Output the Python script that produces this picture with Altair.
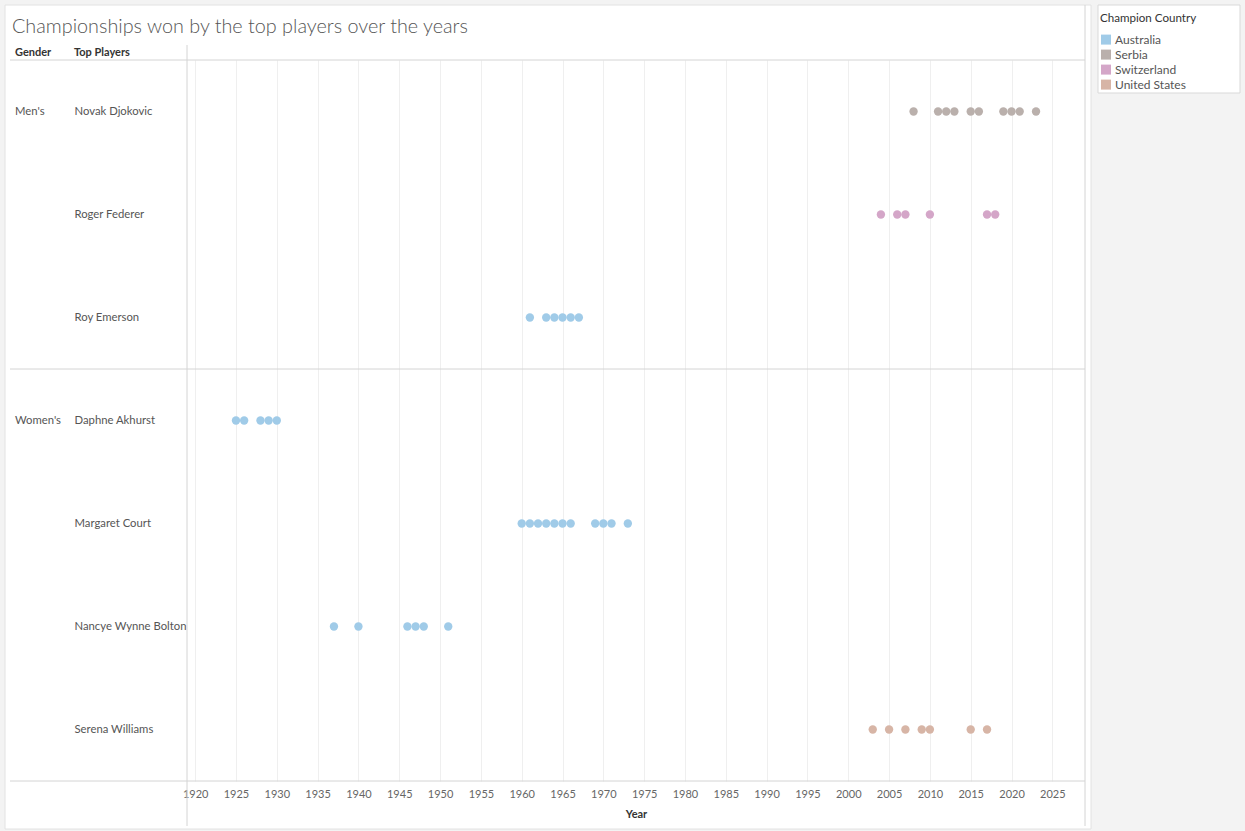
import altair as alt
import pandas as pd

players = ["Novak Djokovic", "Roger Federer", "Roy Emerson",
           "Daphne Akhurst", "Margaret Court", "Nancye Wynne Bolton", "Serena Williams"]
genders = ["Men's", "Men's", "Men's", "Women's", "Women's", "Women's", "Women's"]
countries = ["Serbia", "Switzerland", "Australia", "Australia", "Australia", "Australia", "United States"]
years = [
    [2008, 2011, 2012, 2013, 2015, 2016, 2019, 2020, 2021, 2023],
    [2004, 2006, 2007, 2010, 2017, 2018],
    [1961, 1963, 1964, 1965, 1966, 1967],
    [1925, 1926, 1928, 1929, 1930],
    [1960, 1961, 1962, 1963, 1964, 1965, 1966, 1969, 1970, 1971, 1973],
    [1937, 1940, 1946, 1947, 1948, 1951],
    [2003, 2005, 2007, 2009, 2010, 2015, 2017],
]
country_domain = ["Australia", "Serbia", "Switzerland", "United States"]
country_colors = ["#A0CBE8", "#BAB0AC", "#D4A6C8", "#D7B5A6"]
tick_years = list(range(1920, 2030, 5))
title_text = "Championships won by the top players over the years"

rows = []
for p, g, c, ys in zip(players, genders, countries, years):
    for y in ys:
        rows.append({"Top Players": p, "Gender": g, "Champion Country": c, "Year": y})
df = pd.DataFrame(rows)

gender_df = pd.DataFrame({"Gender": ["Men's", "Women's"],
                          "Top Players": ["Novak Djokovic", "Daphne Akhurst"]})
one = pd.DataFrame({"k": [0]})

FONT = "Lato"
W, H = 898, 721
GRAY_BG = "#f3f3f3"
LINE = "#d4d4d4"

yscale = alt.Scale(type="band", domain=players, paddingInner=0, paddingOuter=0)
xscale = alt.Scale(domain=[1919.0, 2029.0], nice=False, zero=False)


def grey_rect(x, x2, y, y2, fill=GRAY_BG, stroke=None):
    kw = dict(fill=fill)
    if stroke:
        kw["stroke"] = stroke
        kw["strokeWidth"] = 1
    return alt.Chart(one).mark_rect(**kw).encode(
        x=alt.value(x), x2=alt.value(x2), y=alt.value(y), y2=alt.value(y2))


bg_layers = [
    grey_rect(904, 1058, -60, 771),
    grey_rect(-187, -182, -60, 771),
    grey_rect(-187, 1058, -60, -55),
    grey_rect(-187, 1058, 769, 771),
    alt.Chart(one).mark_rect(fill=None, stroke="#e2e2e2", strokeWidth=1).encode(
        x=alt.value(-182), x2=alt.value(904), y=alt.value(-55), y2=alt.value(769)),
    grey_rect(911, 1053, -55, 33, fill="white", stroke="#d9d9d9"),
]


def hrule(y):
    return alt.Chart(one).mark_rule(color=LINE, strokeWidth=1).encode(
        x=alt.value(-177), x2=alt.value(W), y=alt.value(y))


rules = [
    hrule(0),
    hrule(H),
    alt.Chart(one).mark_rule(color=LINE, strokeWidth=1).encode(
        x=alt.value(0), y=alt.value(-15), y2=alt.value(766)),
    alt.Chart(one).mark_rule(color=LINE, strokeWidth=1).encode(
        x=alt.value(W), y=alt.value(-55), y2=alt.value(766)),
    alt.Chart(gender_df).transform_filter(alt.datum.Gender == "Women's").mark_rule(
        color=LINE, strokeWidth=1).encode(
        x=alt.value(-177), x2=alt.value(W),
        y=alt.Y("Top Players:N", scale=yscale, bandPosition=0)),
]

points = alt.Chart(df).mark_circle(size=70, opacity=1).encode(
    x=alt.X("Year:Q", scale=xscale,
            axis=alt.Axis(values=tick_years, format="d", grid=True, gridColor="#efefef",
                          domain=False, ticks=False, tickSize=0, labelPadding=7,
                          labelFontSize=11, labelColor="#666666", labelFont=FONT,
                          title="Year", titleFontSize=11, titleFont=FONT,
                          titleFontWeight="bold", titleColor="#333333", titlePadding=9)),
    y=alt.Y("Top Players:N", scale=yscale,
            axis=alt.Axis(title=None, domain=False, ticks=False, tickSize=0, grid=False,
                          labelAlign="left", labelPadding=113, labelLimit=200,
                          labelFontSize=11.3, labelColor="#555555", labelFont=FONT)),
    color=alt.Color("Champion Country:N",
                    scale=alt.Scale(domain=country_domain, range=country_colors),
                    legend=alt.Legend(title="Champion Country", orient="none",
                                      legendX=909, legendY=-51, padding=4,
                                      symbolType="square", symbolSize=100,
                                      symbolOpacity=1, symbolStrokeWidth=0,
                                      labelFontSize=12, labelColor="#555555",
                                      labelFont=FONT, titleFont=FONT,
                                      titleFontSize=11.6, titleFontWeight="normal",
                                      titleColor="#333333", titlePadding=9,
                                      rowPadding=3, labelOffset=3)),
    tooltip=["Top Players:N", "Year:Q", "Champion Country:N"],
)

gender_text = alt.Chart(gender_df).mark_text(
    align="left", baseline="middle", fontSize=11.3, font=FONT, color="#555555").encode(
    x=alt.value(-172),
    y=alt.Y("Top Players:N", scale=yscale),
    text="Gender:N",
)

headers = [
    alt.Chart(one).mark_text(align="left", baseline="middle", fontSize=11, font=FONT,
                             fontWeight="bold", color="#333333", text="Gender").encode(
        x=alt.value(-172), y=alt.value(-7)),
    alt.Chart(one).mark_text(align="left", baseline="middle", fontSize=11, font=FONT,
                             fontWeight="bold", color="#333333", text="Top Players").encode(
        x=alt.value(-113), y=alt.value(-7)),
]

title_mark = alt.Chart(one).mark_text(
    align="left", baseline="alphabetic", fontSize=19.8, font=FONT, fontWeight=300,
    color="#555555", text=title_text).encode(
    x=alt.value(-175), y=alt.value(-27))

chart = alt.layer(*bg_layers, *rules, points, gender_text, *headers, title_mark).properties(
    width=W, height=H,
    autosize=alt.AutoSizeParams(type="none"),
    padding={"left": 187, "top": 60, "right": 160, "bottom": 50},
    background="white",
).configure_view(stroke=None)

chart.save("out.html", embed_options={"renderer": "svg", "actions": False})
